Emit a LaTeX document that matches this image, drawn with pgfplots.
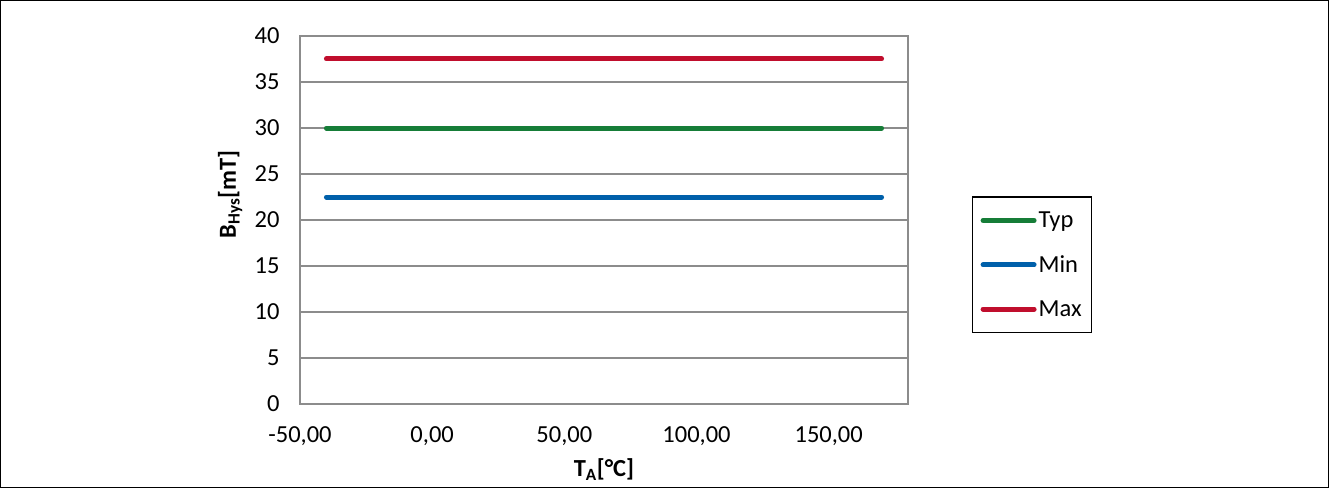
\documentclass[border=0pt]{standalone}
\usepackage{fontspec}
\setmainfont{Carlito}
\usepackage{pgfplots}
\pgfplotsset{compat=1.18}
\definecolor{cRed}{RGB}{192,14,45}
\definecolor{cGreen}{RGB}{22,125,56}
\definecolor{cBlue}{RGB}{0,96,170}
\definecolor{cGrid}{RGB}{140,140,140}
\begin{document}
\begin{tikzpicture}
\useasboundingbox (-300pt,-84pt) rectangle (1029pt,404pt);
\draw[line width=1pt,black] (-299.5pt,-83.5pt) rectangle (1028.5pt,403.5pt);
\begin{axis}[
  scale only axis, width=608pt, height=368pt,
  at={(0,0)}, anchor=south west,
  xmin=-50, xmax=180, ymin=0, ymax=40,
  xtick={-50,0,50,100,150}, ytick={0,5,...,40},
  major tick length=0pt,
  ymajorgrids, grid style={cGrid, line width=1.3pt},
  axis line style={cGrid, line width=1.5pt},
  font=\fontsize{24.5}{28}\selectfont,
  /pgf/number format/assume math mode=true,
  xticklabel={\pgfmathprintnumber[fixed, fixed zerofill, precision=2, use comma, 1000 sep={}]{\tick}},
  xticklabel style={yshift=-19pt},
  yticklabel style={xshift=-17pt},
  xlabel={\textbf{T\textsubscript{A}[°C]}},
  ylabel={\textbf{B\textsubscript{Hys}[mT]}},
  xlabel style={at={(axis description cs:0.5,-0.198)}, anchor=base},
  ylabel style={at={(axis description cs:-0.1053,0.57)}, anchor=base},
  legend style={at={(axis description cs:1.105,0.565)}, anchor=north west, draw=black, line width=1.5pt, font=\fontsize{24.5}{28}\selectfont, row sep=22.5pt, inner xsep=8pt, inner ysep=13pt},
  legend cell align=left,
  legend image code/.code={\draw[#1] (0pt,0pt) -- (51pt,0pt);},
]
\addplot[cGreen, line width=5pt, line cap=round] coordinates {(-40,30) (170,30)};
\addlegendentry{Typ}
\addplot[cBlue, line width=5pt, line cap=round] coordinates {(-40,22.5) (170,22.5)};
\addlegendentry{Min}
\addplot[cRed, line width=5pt, line cap=round] coordinates {(-40,37.5) (170,37.5)};
\addlegendentry{Max}
\end{axis}
\end{tikzpicture}
\end{document}
